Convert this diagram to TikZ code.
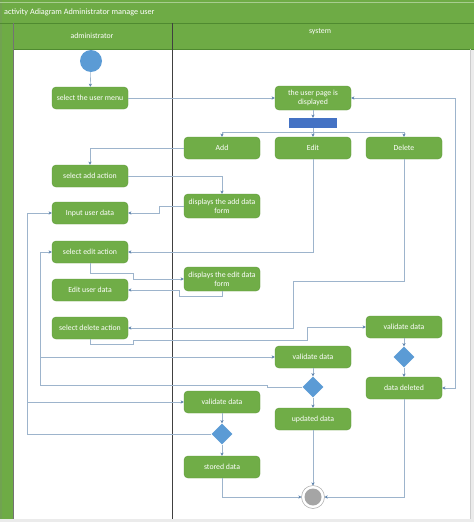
\documentclass[tikz,border=0pt]{standalone}
\usepackage{fontspec}
\setmainfont{Carlito}
\usetikzlibrary{shapes.geometric,arrows.meta}
\definecolor{agreen}{HTML}{70AD47}
\definecolor{agreenD}{HTML}{5E9A39}
\definecolor{fgreen}{HTML}{6EAB45}
\definecolor{fgreenD}{HTML}{4F8A30}
\definecolor{ablue}{HTML}{5B9BD5}
\definecolor{barblue}{HTML}{4472C4}
\definecolor{lineC}{HTML}{9DB4CC}
\definecolor{tipC}{HTML}{5F84AD}
\definecolor{endgray}{HTML}{A5A5A5}
\tikzset{
  act/.style={draw=agreenD, fill=agreen, rounded corners=4pt, text=white,
    minimum width=76pt, minimum height=22pt, align=center,
    inner xsep=0.5pt, inner ysep=1pt, font=\fontsize{7.8}{9}\selectfont},
  dia/.style={diamond, fill=ablue, draw=none, minimum width=21pt, minimum height=21pt, inner sep=0pt},
  conn/.style={draw=lineC, line width=0.6pt, -{Stealth[length=3.2pt,width=3.2pt,color=tipC]}},
  plain/.style={draw=lineC, line width=0.6pt},
  lbl/.style={text=white, font=\fontsize{7.8}{9}\selectfont, inner sep=0pt}
}
\begin{document}
\begin{tikzpicture}[x=1pt,y=-1pt]
\useasboundingbox (0,0) rectangle (474,522);
% frame
\fill[black!8] (0,0) rectangle (474,522);
\fill[fgreen] (0,0) rectangle (474,49);
\fill[fgreen!80!gray] (0,0) rectangle (2,519);
\fill[fgreen] (2,0) rectangle (13,519);
\fill[white] (13,49) rectangle (470,519);
\draw[fgreen!60!white, line width=0.5pt] (0,2) -- (474,2);
\draw[fgreenD, line width=0.7pt] (0,23) -- (474,23);
\draw[fgreenD, line width=0.5pt] (13,49) -- (474,49);
\draw[black!55, line width=0.6pt] (13,23) -- (13,519);
\draw[black!75, line width=0.6pt] (172,23) -- (172,519);
\draw[black!20, line width=0.6pt] (470,49) -- (470,519);
\node[lbl, anchor=west, font=\fontsize{8.2}{9}\selectfont] (title) at (4,12) {activity Adiagram Administrator manage user};
\node[lbl] (hadmin) at (92,36) {administrator};
\node[lbl] (hsys) at (320,32) {system};

% nodes
\node[circle, fill=ablue, minimum size=22pt, inner sep=0pt] (start) at (91,61) {};
\node[act] (menu) at (90,98) {select the user menu};
\node[act, minimum height=24pt] (page) at (313,98) {the user page is\\displayed};
\node[fill=barblue, minimum width=48pt, minimum height=10pt, inner sep=0pt] (fork) at (313,123) {};
\node[act] (add) at (222,148) {Add};
\node[act] (edit) at (313,148) {Edit};
\node[act] (del) at (404,148) {Delete};
\node[act] (seladd) at (90,176) {select add action};
\node[act, minimum height=24pt] (addform) at (222,206) {displays the add data\\form};
\node[act] (input) at (90,213) {Input user data};
\node[act] (seledit) at (90,252) {select edit action};
\node[act, minimum height=24pt] (editform) at (222,279) {displays the edit data\\form};
\node[act] (edituser) at (90,290) {Edit user data};
\node[act] (seldel) at (90,328) {select delete action};
\node[act] (valdel) at (404,327) {validate data};
\node[dia] (ddel) at (404,357) {};
\node[act] (valedit) at (313,357) {validate data};
\node[dia] (dedit) at (313,387) {};
\node[act] (datadel) at (404,388) {data deleted};
\node[act] (valadd) at (222,402) {validate data};
\node[dia] (dadd) at (222,434) {};
\node[act] (updated) at (313,419) {updated data};
\node[act] (stored) at (222,467) {stored data};
\node[circle, fill=endgray, minimum size=17pt, inner sep=0pt, outer sep=3pt] (end) at (313,497) {};
\draw[black!35, line width=0.5pt] (end.center) circle (11.5pt);

% coordinates
\coordinate (fj) at (313,132);
\coordinate (va) at (27,402);
\coordinate (ve) at (40,357);

% connectors
\draw[conn] (start) -- (menu);
\draw[conn] (menu) -- (page);
\draw[conn] (page) -- (fork);
\draw[plain] (fork) -- (fj);
\draw[conn] (fj) -| (add.north);
\draw[conn] (fj) -- (edit.north);
\draw[conn] (fj) -| (del.north);
\draw[conn] (add.west) -| (seladd.north);
\draw[conn] (seladd.east) -| (addform.north);
\draw[conn] (addform.west) -- (159,206) |- (input.east);
\draw[conn] (edit.south) |- (seledit.east);
\draw[conn] (seledit.south) -- (90,273) -- (133,273) -- (133,279) -- (editform.west);
\draw[conn] (editform.south) -- (222,296) -- (179,296) -- (179,290) -- (edituser.east);
\draw[conn] (del.south) -- (404,281) -- (293,281) -- (293,328) -- (seldel.east);
\draw[conn] (seldel.south) -- (90,344) -- (133,344) -- (133,340) -- (307,340) -- (307,327) -- (valdel.west);
\draw[conn] (valdel) -- (ddel);
\draw[conn] (ddel) -- (datadel);
\draw[draw=lineC, line width=0.6pt, {Stealth[length=3.2pt,width=3.2pt,color=tipC]}-{Stealth[length=3.2pt,width=3.2pt,color=tipC]}] (datadel.east) -- (455,388) -- (455,98) -- (page.east);
\draw[conn] (dadd.west) -- (27,434) -- (27,213) -- (input.west);
\draw[conn] (va) -- (valadd.west);
\draw[conn] (dedit.west) -- (267,387) -- (267,385) -- (40,385) -- (40,252) -- (seledit.west);
\draw[conn] (ve) -- (valedit.west);
\draw[conn] (valedit) -- (dedit);
\draw[conn] (dedit) -- (updated);
\draw[conn] (updated) -- (end);
\draw[conn] (valadd) -- (dadd);
\draw[conn] (dadd) -- (stored);
\draw[conn] (stored.south) |- (end.west);
\draw[conn] (datadel.south) |- (end.east);
\end{tikzpicture}
\end{document}
